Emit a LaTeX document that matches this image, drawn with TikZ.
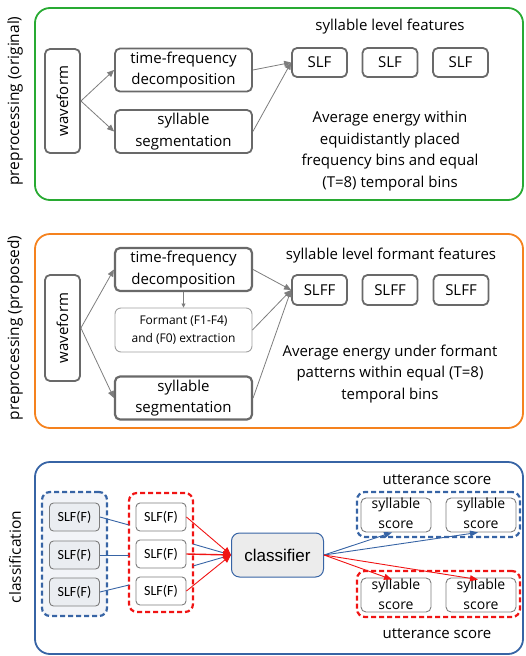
\documentclass[tikz,border=0pt]{standalone}
\usepackage{fontspec}
\setmainfont{Open Sans}
\newfontfamily\arialf{Liberation Sans}
\newfontfamily\calf{Carlito}
\usetikzlibrary{arrows.meta}
\definecolor{pgreen}{RGB}{40,170,50}
\definecolor{porange}{RGB}{245,130,30}
\definecolor{pblue}{RGB}{55,100,165}
\definecolor{bgray}{RGB}{105,105,105}
\definecolor{agray}{RGB}{125,125,125}
\definecolor{lgray}{RGB}{160,160,160}
\definecolor{pred}{RGB}{240,20,20}
\definecolor{grpfill}{RGB}{242,244,248}
\definecolor{boxfill}{RGB}{234,237,241}
\definecolor{clsfill}{RGB}{236,236,236}
\tikzset{
  panel/.style={draw, line width=1.8pt, rounded corners=15pt},
  box/.style={draw=bgray, line width=1.8pt, rounded corners=5pt, align=center, inner sep=0pt},
  thinbox/.style={draw=lgray, line width=0.9pt, rounded corners=6pt, align=center, inner sep=0pt, font=\fontsize{12}{18}\selectfont},
  sbox/.style={draw=agray, line width=0.9pt, rounded corners=4pt, align=center, inner sep=0pt, minimum width=50pt, minimum height=28pt, font=\calf\fontsize{14}{15}\selectfont},
  scbox/.style={draw=agray, line width=0.9pt, rounded corners=5pt, inner sep=0pt, minimum width=70pt, minimum height=34pt},
  sctext/.style={align=center, inner sep=0pt, font=\fontsize{14}{20}\selectfont},
  grp/.style={line width=2.2pt, dash pattern=on 5pt off 3pt, rounded corners=8pt, inner sep=0pt},
  garrow/.style={draw=agray, line width=0.8pt, -{Triangle[length=7pt,width=6pt]}},
  sidelabel/.style={rotate=90, font=\fontsize{15.5}{18}\selectfont},
}
\begin{document}
\begin{tikzpicture}[x=1pt,y=-1pt, font=\fontsize{15}{21.5}\selectfont]
\useasboundingbox (0,0) rectangle (525,656);
% ---------- panel 1
\node[panel, draw=pgreen, minimum width=488pt, minimum height=192pt] (p1) at (279,104) {};
\node[sidelabel] (lab1) at (15,101) {preprocessing (original)};
\node[box, minimum width=35pt, minimum height=104pt] (w1) at (62.5,101) {};
\node[rotate=90] (w1t) at (w1) {waveform};
\node[box, minimum width=137pt, minimum height=43pt] (tf1) at (183.5,70) {time-frequency\\decomposition};
\node[box, minimum width=137pt, minimum height=43pt] (ss1) at (183.5,131.5) {syllable\\segmentation};
\node[box, minimum width=55pt, minimum height=29pt] (slf1a) at (319.5,62.5) {SLF};
\node[box, minimum width=55pt, minimum height=29pt] (slf1b) at (390,62.5) {SLF};
\node[box, minimum width=55pt, minimum height=29pt] (slf1c) at (460.5,62.5) {SLF};
\node (t1) at (390,27) {syllable level features};
\node[align=center] (avg1) at (390,151) {Average energy within\\equidistantly placed\\frequency bins and equal\\(T=8) temporal bins};
\draw[garrow] (w1.east) -- (tf1.west);
\draw[garrow] (w1.east) -- (ss1.west);
\draw[garrow] (tf1.east) -- (slf1a.west);
\draw[garrow] (ss1.east) -- (slf1a.west);
% ---------- panel 2
\node[panel, draw=porange, minimum width=488pt, minimum height=194pt] (p2) at (279,331) {};
\node[sidelabel] (lab2) at (15,328) {preprocessing (proposed)};
\node[box, minimum width=35pt, minimum height=106pt] (w2) at (62.5,328) {};
\node[rotate=90] (w2t) at (w2) {waveform};
\node[box, line width=2.2pt, minimum width=137pt, minimum height=43pt] (tf2) at (183.5,269.5) {time-frequency\\decomposition};
\node[thinbox, minimum width=137pt, minimum height=44pt] (fm2) at (183.5,330) {Formant (F1-F4)\\and (F0) extraction};
\node[box, line width=2.2pt, minimum width=137pt, minimum height=43pt] (ss2) at (183.5,398) {syllable\\segmentation};
\node[box, minimum width=55pt, minimum height=30pt] (slff2a) at (319.5,290) {SLFF};
\node[box, minimum width=55pt, minimum height=30pt] (slff2b) at (390,290) {SLFF};
\node[box, minimum width=55pt, minimum height=30pt] (slff2c) at (461,290) {SLFF};
\node (t2) at (391,256) {syllable level formant features};
\node[align=center] (avg2) at (390,374) {Average energy under formant\\patterns within equal (T=8)\\temporal bins};
\draw[garrow] (w2.east) -- (tf2.west);
\draw[garrow] (w2.east) -- (ss2.west);
\draw[garrow] (tf2.east) -- (slff2a.west);
\draw[garrow] (fm2.east) -- (slff2a.west);
\draw[garrow] (ss2.east) -- (slff2a.west);
\draw[draw=agray, line width=0.8pt, -{Triangle[length=4pt,width=4pt]}] (tf2.south) -- (fm2.north);
% ---------- panel 3
\node[panel, draw=pblue, minimum width=488pt, minimum height=192pt] (p3) at (279,558) {};
\node[sidelabel] (lab3) at (15,557) {classification};
\node[grp, draw=pblue, fill=grpfill, minimum width=65pt, minimum height=124pt] (bgrp) at (74.5,554) {};
\node[sbox, fill=boxfill] (L1) at (74.5,517) {SLF(F)};
\node[sbox, fill=boxfill] (L2) at (74.5,555) {SLF(F)};
\node[sbox, fill=boxfill] (L3) at (74.5,592) {SLF(F)};
\node[grp, draw=pred, minimum width=64pt, minimum height=119pt] (rgrp) at (161,552.5) {};
\node[sbox, fill=white] (M1) at (161,517) {SLF(F)};
\node[sbox, fill=white] (M2) at (161,554) {SLF(F)};
\node[sbox, fill=white] (M3) at (161,591) {SLF(F)};
\node[draw=pblue, line width=1pt, fill=clsfill, rounded corners=8pt, minimum width=92pt, minimum height=44pt, font=\arialf\fontsize{17}{20}\selectfont] (cls) at (277.5,555) {classifier};
\node[grp, draw=pblue, minimum width=163pt, minimum height=45pt] (tgrp) at (438.5,514.5) {};
\node[grp, draw=pred, minimum width=163pt, minimum height=46pt] (dgrp) at (438.5,594) {};
\node[scbox] (S1) at (396,515) {};
\node[scbox] (S2) at (481,515) {};
\node[scbox] (S3) at (396,595) {};
\node[scbox] (S4) at (481,595) {};
\node[sctext] (S1t) at ([yshift=2pt]S1.center) {syllable\\score};
\node[sctext] (S2t) at ([yshift=2pt]S2.center) {syllable\\score};
\node[sctext] (S3t) at ([yshift=1pt]S3.center) {syllable\\score};
\node[sctext] (S4t) at ([yshift=1pt]S4.center) {syllable\\score};
\node (u1) at (437,480) {utterance score};
\node (u2) at (437,634) {utterance score};
\coordinate (r1) at (129,525);
\coordinate (r2) at (129,555);
\coordinate (r3) at (129,585);
\coordinate (e1) at (193,544);
\coordinate (e2) at (193,566);
\draw[pblue, line width=0.9pt] (L1.east) -- (r1);
\draw[pblue, line width=0.9pt] (L2.east) -- (r2);
\draw[pblue, line width=0.9pt] (L3.east) -- (r3);
\draw[pblue, line width=0.9pt] (e1) -- (cls.west);
\draw[pblue, line width=0.9pt] (e2) -- (cls.west);
\draw[pred, line width=0.9pt, -{Triangle[length=8pt,width=7pt]}] (M1.east) -- (cls.west);
\draw[pred, line width=1.4pt, -{Triangle[length=8pt,width=7pt]}] (M2.east) -- (cls.west);
\draw[pred, line width=0.9pt, -{Triangle[length=8pt,width=7pt]}] (M3.east) -- (cls.west);
\draw[pblue, line width=0.9pt, -{Triangle[length=8pt,width=6pt]}] (cls.east) -- ([xshift=-4pt]S1.south);
\draw[pblue, line width=0.9pt, -{Triangle[length=8pt,width=6pt]}] (cls.east) -- ([xshift=-3pt]S2.south);
\draw[pred, line width=0.9pt, -{Triangle[length=8pt,width=6pt]}] (cls.east) -- ([xshift=-4pt,yshift=-2pt]S3.north);
\draw[pred, line width=0.9pt, -{Triangle[length=8pt,width=6pt]}] (cls.east) -- ([xshift=-3pt,yshift=-2pt]S4.north);
\end{tikzpicture}
\end{document}
